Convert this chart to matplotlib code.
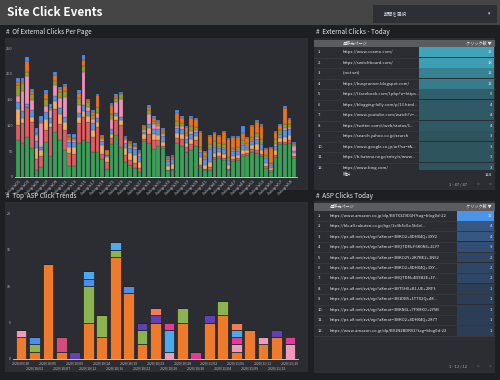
import matplotlib
matplotlib.use("Agg")
import matplotlib.pyplot as plt
from matplotlib.patches import Rectangle
from matplotlib.colors import to_rgb
import numpy as np

plt.rcParams['font.family'] = ['Noto Sans CJK JP', 'DejaVu Sans']

W, H = 500, 380

# ---- data: external clicks per page (stacked, bottom -> top) ----
page_labels = [
    "/blog/a01", "/blog/a03", "/blog/a05", "/blog/a07", "/blog/a09", "/blog/a11",
    "/blog/a13", "/blog/a15", "/blog/a17", "/blog/a19", "/blog/a21", "/blog/a23",
    "/blog/a25", "/blog/a27", "/blog/a29", "/blog/a31", "/blog/a33", "/blog/a35",
    "/blog/a37", "/blog/a39", "/blog/a41", "/blog/a43", "/blog/a45", "/blog/a47",
    "/blog/a49", "/blog/a51", "/blog/a53", "/blog/a55", "/blog/a57", "/blog/a59",
]
green = [72, 65, 78, 57, 14, 19, 68, 41, 87, 72, 52, 22, 22, 65, 72, 67, 48, 48, 34, 16,
         63, 81, 58, 30, 23, 18, 10, 69, 66, 55, 61, 56, 13, 13, 65, 61, 48, 52, 61, 19,
         13, 13, 35, 37, 32, 13, 31, 32, 40, 43, 48, 47, 41, 18, 10, 39, 63, 63, 65, 37]
red = [28, 40, 58, 50, 20, 22, 24, 55, 45, 30, 40, 25, 22, 40, 45, 40, 30, 48, 10, 14,
       12, 30, 42, 12, 10, 10, 8, 4, 18, 16, 10, 4, 0, 2, 10, 12, 10, 12, 10, 4,
       2, 6, 4, 4, 4, 2, 4, 4, 4, 4, 6, 6, 4, 4, 4, 4, 4, 4, 6, 4]
lorange = [31, 10, 0, 10, 22, 12, 20, 8, 15, 20, 14, 12, 14, 12, 10, 12, 14, 10, 18, 8,
           8, 8, 10, 15, 14, 14, 12, 10, 10, 12, 10, 8, 8, 10, 10, 10, 8, 10, 8, 16,
           8, 10, 8, 8, 8, 8, 6, 6, 8, 6, 8, 10, 8, 6, 4, 10, 8, 10, 10, 6]
blue = [14, 12, 6, 12, 14, 6, 14, 10, 10, 12, 10, 8, 10, 8, 12, 8, 12, 8, 8, 4,
        10, 6, 6, 8, 10, 12, 10, 4, 8, 10, 12, 12, 10, 10, 10, 10, 8, 10, 8, 10,
        12, 26, 12, 8, 10, 10, 10, 8, 10, 6, 8, 10, 10, 8, 6, 8, 8, 14, 12, 4]
pink = [12, 40, 54, 20, 12, 45, 12, 15, 22, 20, 40, 4, 4, 14, 65, 8, 8, 10, 4, 0,
        20, 20, 36, 6, 4, 4, 4, 4, 20, 10, 6, 4, 2, 2, 4, 6, 6, 6, 4, 4,
        2, 2, 2, 2, 2, 2, 2, 2, 2, 2, 2, 4, 2, 2, 2, 2, 2, 4, 4, 10]
olive = [22, 15, 8, 12, 4, 0, 14, 6, 8, 10, 10, 6, 4, 14, 12, 10, 8, 12, 4, 0,
         10, 8, 8, 4, 4, 2, 4, 4, 8, 6, 6, 4, 2, 2, 10, 6, 6, 8, 6, 6,
         4, 6, 8, 6, 8, 4, 4, 6, 8, 4, 6, 8, 8, 4, 2, 10, 6, 8, 6, 2]
orange = [5, 4, 20, 6, 0, 4, 10, 0, 10, 6, 10, 2, 0, 10, 10, 4, 6, 22, 4, 10,
          16, 4, 3, 2, 2, 2, 2, 4, 6, 6, 4, 4, 3, 2, 16, 10, 10, 16, 16, 28,
          7, 16, 16, 15, 24, 35, 20, 20, 14, 11, 20, 22, 26, 13, 28, 14, 10, 30, 10, 2]
sky = [8, 6, 8, 4, 8, 10, 6, 6, 6, 4, 5, 5, 8, 6, 10, 3, 3, 3, 0, 0,
       5, 3, 2, 2, 2, 3, 2, 2, 4, 3, 2, 2, 2, 2, 4, 3, 2, 4, 2, 3,
       2, 3, 3, 2, 2, 2, 3, 2, 13, 2, 2, 4, 4, 2, 2, 3, 2, 5, 2, 2]
page_series = [green, red, lorange, blue, pink, olive, orange, sky]
page_colors = ['#3c9f58', '#de5d60', '#f4ab62', '#5b93d9', '#f08fb8', '#939b2c',
               '#e8731c', '#4b8ef2']

# ---- data: ASP click trends (stacked, bottom -> top) ----
dates = ["2020/09/30", "2020/10/02", "2020/10/05", "2020/10/07", "2020/10/09",
         "2020/10/12", "2020/10/14", "2020/10/16", "2020/10/19", "2020/10/21",
         "2020/10/23", "2020/10/26", "2020/10/28", "2020/10/30", "2020/11/02",
         "2020/11/04", "2020/11/06", "2020/11/09", "2020/11/11", "2020/11/13",
         "2020/11/16"]
asp_orange = [3, 1, 13, 1, 0, 5, 3, 14, 9, 2, 5, 0, 5, 0, 5, 6, 1, 4, 2, 3, 0]
asp_pink = [1, 0, 0, 0, 0, 0, 0, 0, 0, 0, 0, 1, 0, 0, 0, 0, 1, 0, 1, 0, 2]
asp_magenta_a = [0, 0, 0, 0, 0, 0, 0, 0, 0, 0, 0, 0, 0, 1, 0, 0, 1, 0, 0, 0, 0]
asp_green = [0, 1, 0, 0, 0, 5, 3, 1, 0, 2, 0, 0, 2, 0, 0, 2, 0, 0, 0, 0, 0]
asp_blue = [0, 1, 0, 0, 0, 1, 0, 0, 1, 0, 0, 0, 0, 0, 0, 0, 0, 0, 0, 0, 0]
asp_lblue = [0, 0, 0, 0, 0, 1, 0, 1, 0, 0, 0, 3, 0, 0, 0, 0, 1, 0, 0, 0, 0]
asp_dpink = [0, 0, 0, 2, 0, 0, 0, 0, 0, 0, 0, 0, 0, 0, 0, 0, 0, 0, 0, 0, 0]
asp_purple = [0, 0, 0, 0, 1, 0, 0, 0, 0, 1, 1, 0, 0, 0, 1, 0, 0, 0, 0, 1, 0]
asp_salmon = [0, 0, 0, 0, 0, 0, 0, 0, 0, 0, 1, 0, 0, 0, 0, 0, 1, 0, 0, 0, 0]
asp_magenta_b = [0, 0, 0, 0, 0, 0, 0, 0, 0, 0, 0, 1, 0, 0, 0, 0, 0, 0, 0, 0, 1]
asp_series = [asp_orange, asp_pink, asp_magenta_a, asp_green, asp_blue, asp_lblue,
              asp_dpink, asp_purple, asp_salmon, asp_magenta_b]
asp_colors = ['#ee7a2c', '#ec9bbb', '#e23a98', '#8cb44e', '#4f8ee8', '#4aa9ef',
              '#d24c7c', '#6140b5', '#f27a58', '#e23a98']

# ---- data: tables ----
ext_pages = [
    "https://www.cosmo.com/",
    "https://switchboard.com/",
    "(not set)",
    "https://busyrunner.blogspot.com/",
    "https://l.facebook.com/l.php?u=https...",
    "https://blogging-fully.com/p/13.html...",
    "https://www.youtube.com/watch?v=...",
    "https://twitter.com/i/web/status/1...",
    "https://search.yahoo.co.jp/search",
    "https://www.google.co.jp/url?sa=t&...",
    "https://b.hatena.ne.jp/entry/s/www...",
    "https://www.bing.com/",
]
ext_clicks = [19, 18, 12, 11, 5, 4, 4, 4, 3, 3, 3, 3]
ext_total = 124
ext_rows = 47

asp_pages = [
    "https://www.amazon.co.jp/dp/B07X3Z9D1H?tag=blog0d-22",
    "https://hb.afl.rakuten.co.jp/hgc/1e3b5c0a.5b1d...",
    "https://px.a8.net/svt/ejp?a8mat=3BKO2+4DHX4Q+3XY2",
    "https://px.a8.net/svt/ejp?a8mat=3BQTDM+F6K0N6+2LY7",
    "https://px.a8.net/svt/ejp?a8mat=3BKO2Y+2K7BE2+1N92",
    "https://px.a8.net/svt/ejp?a8mat=3BKO2+4DHX4Q+3XY...",
    "https://px.a8.net/svt/ejp?a8mat=3BQTDM+4D9B2E+1Y...",
    "https://px.a8.net/svt/ejp?a8mat=3BT5H0+B1JJE+2RF3",
    "https://px.a8.net/svt/ejp?a8mat=3B1DB5+1TTX2Q+48...",
    "https://px.a8.net/svt/ejp?a8mat=3BKN6L+7F9MXO+2Y5B",
    "https://px.a8.net/svt/ejp?a8mat=3BKO2+4DHX4Q+2877",
    "https://www.amazon.co.jp/dp/B01N2BDRV2?tag=blog0d-22",
]
asp_clicks = [11, 4, 4, 3, 2, 2, 2, 1, 1, 1, 1, 1]

# ---- colours ----
BG = '#1e1f22'
HEADER = '#454545'
PANEL = '#2b2d33'
TXT = '#e8eaed'
SUB = '#aab0b6'
ROWLINE = '#3b3e45'

fig = plt.figure(figsize=(W / 100, H / 100), dpi=100, facecolor=BG)
bg = fig.add_axes([0, 0, 1, 1])
bg.set_xlim(0, W)
bg.set_ylim(H, 0)
bg.axis('off')


def px_axes(x0, y0, x1, y1):
    return fig.add_axes([x0 / W, 1 - y1 / H, (x1 - x0) / W, (y1 - y0) / H])


def rect(x0, y0, x1, y1, color, z=1):
    bg.add_patch(Rectangle((x0, y0), x1 - x0, y1 - y0, facecolor=color,
                           edgecolor='none', zorder=z))


def mix(c0, c1, t):
    a, b = np.array(to_rgb(c0)), np.array(to_rgb(c1))
    return tuple(a + (b - a) * t)


# header
rect(0, 0, W, 25, HEADER)
bg.text(7, 13, "Site Click Events", color='white', fontsize=8.5, fontweight='bold',
        va='center', ha='left')
rect(373, 5, 497, 23, '#2d2f35', 2)
bg.text(384, 14, "期間を選択", color='#cfd2d6', fontsize=3.3, va='center', zorder=3)
bg.text(488, 14, "▾", color='#cfd2d6', fontsize=3.3, va='center', zorder=3)

# panels
rect(5, 38, 308, 190, PANEL)
rect(314, 38, 495, 190, PANEL)
rect(5, 202, 308, 372, PANEL)
rect(314, 201, 495, 373, PANEL)

titles = [(6, 32, "#  Of External Clicks Per Page"),
          (316, 32, "#  External Clicks - Today"),
          (6, 196, "#  Top  ASP Click Trends"),
          (316, 196, "#  ASP Clicks Today")]
for tx, ty, s in titles:
    bg.text(tx, ty, s, color=TXT, fontsize=4.6, va='center', ha='left')

# ---- top-left: stacked bars per page ----
ax1 = px_axes(15, 48, 297, 177)
ax1.set_facecolor('none')
x = np.arange(len(green))
bottom = np.zeros(len(green))
for vals, col in zip(page_series, page_colors):
    v = np.array(vals, dtype=float)
    ax1.bar(x, v, bottom=bottom, width=0.8, color=col, edgecolor=PANEL, linewidth=0.15)
    bottom += v
ax1.set_xlim(-0.6, len(green) - 0.4)
ax1.set_ylim(0, 250)
ax1.set_yticks([0, 50, 100, 150, 200, 250])
ax1.set_xticks(x[::2])
ax1.tick_params(axis='both', length=0, labelsize=2.8, labelcolor=SUB, pad=1.5)
ax1.tick_params(axis='x', labelbottom=False)
for s in ['top', 'right', 'left']:
    ax1.spines[s].set_visible(False)
ax1.spines['bottom'].set_color('#d8d8d8')
ax1.spines['bottom'].set_linewidth(0.6)

# rotated page labels: tick positions taken from ax1's x scale, drawn on the
# background layer in pixel units just under the baseline
to_bg = ax1.transData + bg.transData.inverted()
for xi, lab in zip(x[::2], page_labels):
    px, py = to_bg.transform((xi, 0))
    bg.text(px + 1, py + 2.5, lab, rotation=45, ha='right', va='top',
            rotation_mode='anchor', fontsize=3.0, color='#b8bcc2',
            fontfamily='DejaVu Sans', zorder=6)

# ---- bottom-left: ASP click trends ----
ax2 = px_axes(13, 213, 298, 359)
ax2.set_facecolor('none')
xd = np.arange(len(dates))
bottom = np.zeros(len(dates))
for vals, col in zip(asp_series, asp_colors):
    v = np.array(vals, dtype=float)
    ax2.bar(xd, v, bottom=bottom, width=0.8, color=col, edgecolor='#23252a', linewidth=0.5)
    bottom += v
ax2.set_xlim(-0.6, len(dates) - 0.4)
ax2.set_ylim(0, 20)
ax2.set_yticks([0, 5, 10, 15, 20])
# alternate date labels on two rows
ax2.set_xticks(xd[::2])
ax2.set_xticklabels(dates[::2])
ax2.set_xticks(xd[1::2], minor=True)
ax2.set_xticklabels(dates[1::2], minor=True)
ax2.tick_params(axis='both', which='both', length=0, labelsize=2.5, labelcolor='#bdc1c6',
                pad=1.5)
ax2.tick_params(axis='x', which='minor', pad=5.2)
for s in ['top', 'right', 'left']:
    ax2.spines[s].set_visible(False)
ax2.spines['bottom'].set_color('#d8d8d8')
ax2.spines['bottom'].set_linewidth(0.6)

# ---- tables ----
FS = 3.0


def draw_table(y_head, row_h, pages, clicks, vmax, vmin, url_x, cell_x, dark, bright,
               y_clip):
    rect(314, y_head, 495, y_head + 7.5, '#5b5c60', 2)
    bg.text(url_x, y_head + 3.8, "遷移元ページ", color=TXT, fontsize=FS, va='center', zorder=3)
    bg.text(492, y_head + 3.8, "クリック数 ▼", color=TXT, fontsize=FS, va='center',
            ha='right', zorder=3)
    y0 = y_head + 7.5
    for i, (p, c) in enumerate(zip(pages, clicks)):
        top = y0 + i * row_h
        if top > y_clip:
            break
        bot = min(top + row_h, y_clip)
        t = (c - vmin) / (vmax - vmin)
        rect(cell_x, top + 0.4, 494, bot - 0.4, mix(dark, bright, t), 2)
        bg.plot([314, 495], [bot, bot], color=ROWLINE, lw=0.4, zorder=2)
        yc = top + row_h / 2
        if yc + 2 < y_clip:
            bg.text(318, yc, f"{i + 1}.", color=TXT, fontsize=FS, va='center', zorder=3)
            bg.text(url_x, yc, p, color=TXT, fontsize=FS, va='center', zorder=3)
            bg.text(492, yc, str(c), color=TXT, fontsize=FS, va='center', ha='right',
                    zorder=3)


draw_table(39.5, 10.5, ext_pages, ext_clicks, max(ext_clicks), 1, 343, 419,
           '#2c4a53', '#3fa4ba', 170)
rect(314, 170, 495, 179, PANEL, 4)
bg.text(343, 174.5, "総計", color=TXT, fontsize=FS, va='center', zorder=5)
bg.text(492, 174.5, str(ext_total), color=TXT, fontsize=FS, va='center', ha='right', zorder=5)
bg.text(467, 184, f"1 - {ext_rows} / {ext_rows}", color=SUB, fontsize=FS, va='center',
        ha='right', zorder=5)
bg.text(477, 184, "<", color='#6b6f75', fontsize=FS + 0.5, va='center', zorder=5)
bg.text(489, 184, ">", color='#6b6f75', fontsize=FS + 0.5, va='center', zorder=5)

draw_table(203, 10.45, asp_pages, asp_clicks, max(asp_clicks), 1, 330, 457,
           '#2c3d56', '#4a94ea', 360)
bg.text(467, 366, f"1 - {len(asp_clicks)} / {len(asp_clicks)}", color=SUB, fontsize=FS,
        va='center', ha='right', zorder=5)
bg.text(477, 366, "<", color='#6b6f75', fontsize=FS + 0.5, va='center', zorder=5)
bg.text(489, 366, ">", color='#6b6f75', fontsize=FS + 0.5, va='center', zorder=5)

fig.savefig("out.png", dpi=100, facecolor=BG)
